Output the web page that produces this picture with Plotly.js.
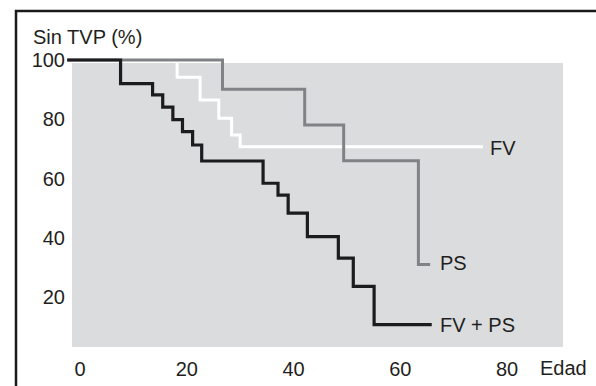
<!DOCTYPE html>
<html>
<head>
<meta charset="utf-8">
<script src="https://cdn.plot.ly/plotly-3.0.1.min.js"></script>
<style>
  html, body { margin: 0; padding: 0; background: #ffffff; }
  #chart { width: 596px; height: 386px; }
</style>
</head>
<body>
<div id="chart"></div>
<script>
// Edad (x) and % Sin TVP (y) for each step curve
const fvX  = [-2.4, 18.2, 18.2, 22.5, 22.5, 26.0, 26.0, 28.4, 28.4, 30.0, 30.0, 75.5];
const fvY  = [100, 100, 94.2, 94.2, 86.5, 86.5, 80.3, 80.3, 74.7, 74.7, 70.7, 70.7];

const psX  = [-2.4, 26.7, 26.7, 42.1, 42.1, 49.4, 49.4, 63.4, 63.4, 65.6];
const psY  = [100, 100, 90.1, 90.1, 78.1, 78.1, 66.0, 66.0, 31.0, 31.0];

const fvpsX = [-2.4, 7.6, 7.6, 13.6, 13.6, 15.5, 15.5, 17.4, 17.4, 19.2, 19.2, 21.1, 21.1, 22.8, 22.8,
               34.3, 34.3, 37.1, 37.1, 39.0, 39.0, 42.6, 42.6, 48.4, 48.4, 51.2, 51.2, 55.1, 55.1, 65.9];
const fvpsY = [100, 100, 92.0, 92.0, 88.2, 88.2, 84.1, 84.1, 79.9, 79.9, 75.8, 75.8, 71.3, 71.3, 65.9,
               65.9, 58.4, 58.4, 54.4, 54.4, 48.3, 48.3, 40.4, 40.4, 33.1, 33.1, 23.6, 23.6, 10.7, 10.7];

const curveNames = ["FV", "PS", "FV + PS"];
const labelX = [76.4, 67.1, 67.1];
const labelY = [70.4, 31.4, 10.6];

const xTicks = [0, 20, 40, 60, 80];
const yTicks = [20, 40, 60, 80, 100];
const yTitle = "Sin TVP (%)";
const xTitle = "Edad";

// layout geometry (pixels)
const W = 596, H = 386;
const L = 66, R = 28, T = 48, B = 34;
const pw = W - L - R, ph = H - T - B;
const px2paperX = p => (p - L) / pw;
const px2paperY = p => (H - B - p) / ph;

const font = "Liberation Sans, Arial, Helvetica, sans-serif";
const ink = "#1f1f21";

const traces = [
  {x: fvX, y: fvY, mode: "lines", line: {color: "#ffffff", width: 3}, name: curveNames[0]},
  {x: psX, y: psY, mode: "lines", line: {color: "#808286", width: 3}, name: curveNames[1]},
  {x: fvpsX, y: fvpsY, mode: "lines", line: {color: "#1c1c1f", width: 3.2}, name: curveNames[2]}
];

const annotations = curveNames.map((n, i) => ({
  x: labelX[i], y: labelY[i], xref: "x", yref: "y", text: n, showarrow: false,
  xanchor: "left", yanchor: "middle", font: {family: font, size: 20, color: ink}
}));
annotations.push({
  xref: "paper", yref: "paper", x: px2paperX(31), y: px2paperY(37), text: yTitle,
  showarrow: false, xanchor: "left", yanchor: "middle", font: {family: font, size: 20, color: ink}
});
annotations.push({
  xref: "paper", yref: "paper", x: px2paperX(538), y: px2paperY(368), text: xTitle,
  showarrow: false, xanchor: "left", yanchor: "middle", font: {family: font, size: 20, color: ink}
});

const layout = {
  width: W, height: H,
  margin: {l: L, r: R, t: T, b: B, pad: 0},
  paper_bgcolor: "#ffffff",
  plot_bgcolor: "rgba(0,0,0,0)",
  showlegend: false,
  xaxis: {
    range: [(L - 80) / 5.3375, (W - R - 80) / 5.3375],
    tickvals: xTicks, ticktext: xTicks.map(String),
    showgrid: false, zeroline: false, showline: false, ticks: "",
    ticklabelstandoff: 3,
    tickfont: {family: font, size: 20, color: ink}
  },
  yaxis: {
    range: [100 - (H - B - 60) / 2.9625, 100 + (60 - T) / 2.9625],
    tickvals: yTicks, ticktext: yTicks.map(String),
    showgrid: false, zeroline: false, showline: false, ticks: "",
    tickfont: {family: font, size: 20, color: ink}
  },
  shapes: [
    {type: "rect", xref: "x", yref: "y", x0: -1.5, x1: 90.5, y0: 3.1, y1: 99.0,
     fillcolor: "#dbdcde", line: {width: 0}, layer: "below"},
    {type: "rect", xref: "paper", yref: "paper",
     x0: px2paperX(16), x1: px2paperX(600), y0: px2paperY(392), y1: px2paperY(11),
     fillcolor: "rgba(0,0,0,0)", line: {color: "#1a1a1a", width: 2.5}, layer: "above"}
  ],
  annotations: annotations
};

Plotly.newPlot("chart", traces, layout, {displayModeBar: false, staticPlot: true});
</script>
</body>
</html>
